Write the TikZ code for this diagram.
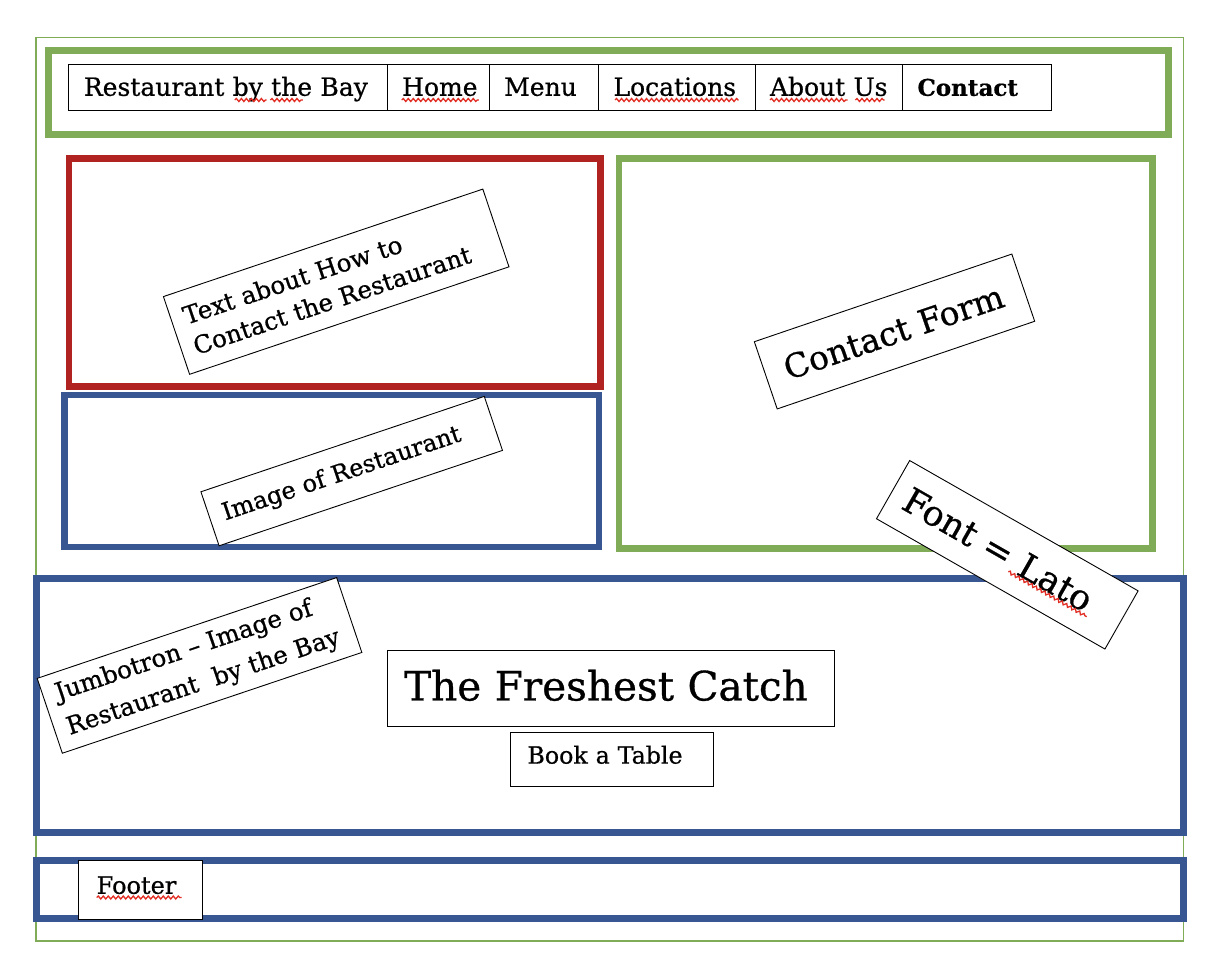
\documentclass[tikz,border=0pt]{standalone}
\usepackage{fontspec}
\setmainfont{DejaVu Serif}[FakeBold=0.7]
\usetikzlibrary{decorations.pathmorphing}
\definecolor{wfgreen}{RGB}{128,171,87}
\definecolor{wfred}{RGB}{176,35,32}
\definecolor{wfblue}{RGB}{56,87,146}
\definecolor{spell}{RGB}{225,45,35}
\newcommand{\wfsize}[2]{\fontsize{#1}{#2}\selectfont}
\begin{document}
\begin{tikzpicture}[x=1pt,y=-1pt,
  frame/.style={line width=6.6pt},
  thinframe/.style={draw=wfgreen, line width=1.8pt},
  cell/.style={draw=black, line width=1pt, minimum height=46pt, anchor=north west,
    inner xsep=15pt, inner ysep=0pt, text height=18pt, text depth=2pt, align=left,
    font=\wfsize{25}{28}},
  tag/.style={draw=black, line width=0.9pt, fill=white, inner ysep=0pt},
  squig/.style={draw=spell, line width=1.3pt, decorate,
    decoration={snake, segment length=5pt, amplitude=1.5pt}}
]
\useasboundingbox[fill=white] (0,0) rectangle (1218,976);

% outer page frame
\draw[thinframe] (35.8,37.5) rectangle (1183.5,941.2);

% section frames
\draw[frame, draw=wfgreen] (48.5,50.5) rectangle (1168.5,134.5);
\draw[frame, draw=wfred]   (69,158.3) rectangle (600.5,386.7);
\draw[frame, draw=wfblue]  (64.5,395) rectangle (598.9,547);
\draw[frame, draw=wfgreen] (618.8,158.3) rectangle (1152.3,548.3);
\draw[frame, draw=wfblue]  (36.7,578.3) rectangle (1183.5,832.5);
\draw[frame, draw=wfblue]  (36.7,860.7) rectangle (1183.5,918.3);

% navigation bar
\node[cell, text width=288.3pt] (brand)   at (68.4,64.3)  {Restaurant by the Bay};
\node[cell, text width=72pt]    (home)    at (386.7,64.3) {Home};
\node[cell, text width=79.3pt]  (menu)    at (488.7,64.3) {Menu};
\node[cell, text width=126.5pt] (loc)     at (598,64.3)   {Locations};
\node[cell, text width=117.5pt] (about)   at (754.5,64.3) {About Us};
\node[cell, text width=118.5pt, font=\wfsize{23}{28}\bfseries] (contact) at (902,64.3) {Contact};

% content tags
\node[tag, rotate=18.6, minimum height=82pt, text width=311pt, inner xsep=13pt,
  align=left, font=\wfsize{24.5}{32}] (howto) at (336.2,281.7)
  {\mbox{Text about How to}\\\mbox{Contact the Restaurant}};
\node[tag, rotate=18.6, minimum height=57pt, text width=271pt, inner xsep=14pt,
  align=left, font=\wfsize{24}{28}] (imgrest) at (351.7,471.1) {\mbox{Image of Restaurant}};
\node[tag, rotate=18.8, minimum height=71pt, text width=232pt, inner xsep=20pt,
  align=left, font=\wfsize{33}{38}] (form) at (894.5,331.5) {\mbox{Contact Form}};
\node[tag, rotate=18.6, minimum height=79pt, text width=290pt, inner xsep=13pt,
  align=left, font=\wfsize{24.5}{36}] (jumbo) at (199.5,665.4)
  {\mbox{Jumbotron – Image of}\\\mbox{Restaurant\ \ by the Bay}};
\node[tag, anchor=north west, text width=413.6pt, inner xsep=17pt, minimum height=76pt,
  text height=28pt, text depth=4pt, align=left, font=\wfsize{40.5}{44}] (catch)
  at (386.7,650) {\mbox{The Freshest Catch}};
\node[tag, anchor=north west, text width=169pt, inner xsep=17pt, minimum height=53.7pt,
  text height=16pt, text depth=8pt, align=left, font=\wfsize{23.7}{28}] (book)
  at (510,732.3) {\mbox{Book a Table}};
\node[tag, anchor=north west, text width=88pt, inner xsep=18pt, minimum height=58.7pt,
  text height=16pt, text depth=8pt, align=left, font=\wfsize{24}{28}] (footer)
  at (78.3,860) {Footer};
\node[tag, rotate=-29.7, minimum height=67pt, text width=233pt, inner xsep=15pt,
  align=left, font=\wfsize{35}{40}] (lato) at (1007.3,554.8) {\mbox{Font = Lato}};

% spell-check underlines
\draw[squig] (234.8,100) -- (266.5,100);
\draw[squig] (270.4,100) -- (302.8,100);
\draw[squig] (401.7,100) -- (478.8,100);
\draw[squig] (615,100) -- (738.7,100);
\draw[squig] (770,100) -- (847.5,100);
\draw[squig] (855.4,100) -- (884.6,100);
\draw[squig] (96.7,897.5) -- (181.7,897.5);
\draw[squig] (1008.3,571.7) -- (1086.7,616.7);
\end{tikzpicture}
\end{document}
